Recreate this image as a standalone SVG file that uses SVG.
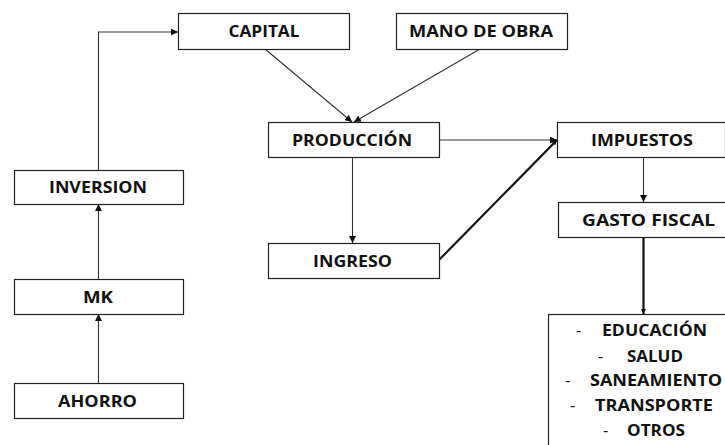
<svg xmlns="http://www.w3.org/2000/svg" width="725" height="445" viewBox="0 0 725 445">
<style>
.box{fill:#fff;stroke:#222;stroke-width:1.2}
.t{font-family:"Open Sans","Liberation Sans",sans-serif;font-weight:bold;font-size:16.5px;fill:#111;text-anchor:middle}
.l{font-family:"Open Sans","Liberation Sans",sans-serif;font-weight:bold;font-size:16.5px;fill:#111}
.d{font-weight:normal}
.c{fill:none;stroke:#333;stroke-width:1.1}
.ck{fill:none;stroke:#111;stroke-width:2.2}
</style>
<defs>
<marker id="a" viewBox="0 0 10 10" refX="10" refY="5" markerWidth="7" markerHeight="7" markerUnits="userSpaceOnUse" orient="auto"><path d="M0,0L10,5L0,10z" fill="#111"/></marker>
<marker id="b" viewBox="0 0 10 10" refX="10" refY="5" markerWidth="5" markerHeight="5" markerUnits="userSpaceOnUse" orient="auto"><path d="M0,0L10,5L0,10z" fill="#111"/></marker>
</defs>
<rect width="725" height="445" fill="#fff"/>
<g id="connectors">
<path class="c" d="M98.5,170V32H178" marker-end="url(#a)"/>
<path class="c" d="M265,49L352,122" marker-end="url(#a)"/>
<path class="c" d="M480,49L354,122" marker-end="url(#a)"/>
<path class="c" d="M352.5,157V243" marker-end="url(#a)"/>
<path class="c" d="M439,140H557" marker-end="url(#a)"/>
<path class="ck" d="M439,260L557,140" marker-end="url(#b)"/>
<path class="c" d="M643.5,157V202" marker-end="url(#a)"/>
<path class="ck" d="M643.5,237V314" marker-end="url(#b)"/>
<path class="c" d="M98.5,279V204" marker-end="url(#a)"/>
<path class="c" d="M98.5,383V314" marker-end="url(#a)"/>
</g>
<g id="capital"><rect class="box" x="178.5" y="13.5" width="171" height="36"/><text class="t" x="264" y="37" textLength="71" lengthAdjust="spacingAndGlyphs">CAPITAL</text></g>
<g id="mano-de-obra"><rect class="box" x="396.5" y="13.5" width="171" height="36"/><text class="t" x="481" y="37" textLength="144" lengthAdjust="spacingAndGlyphs">MANO DE OBRA</text></g>
<g id="produccion"><rect class="box" x="268.5" y="122.5" width="171" height="35"/><text class="t" x="352" y="146" textLength="120" lengthAdjust="spacingAndGlyphs">PRODUCCIÓN</text></g>
<g id="impuestos"><rect class="box" x="557.5" y="122.5" width="168" height="35"/><text class="t" x="642" y="146" textLength="102" lengthAdjust="spacingAndGlyphs">IMPUESTOS</text></g>
<g id="ingreso"><rect class="box" x="268.5" y="243.5" width="171" height="35"/><text class="t" x="352.5" y="267" textLength="79" lengthAdjust="spacingAndGlyphs">INGRESO</text></g>
<g id="gasto-fiscal"><rect class="box" x="558.5" y="202.5" width="168" height="35"/><text class="t" x="648.5" y="226" textLength="133" lengthAdjust="spacingAndGlyphs">GASTO FISCAL</text></g>
<g id="inversion"><rect class="box" x="14.5" y="170.5" width="169" height="34"/><text class="t" x="98" y="193" textLength="98" lengthAdjust="spacingAndGlyphs">INVERSION</text></g>
<g id="mk"><rect class="box" x="14.5" y="279.5" width="169" height="35"/><text class="t" x="98" y="303" textLength="30" lengthAdjust="spacingAndGlyphs">MK</text></g>
<g id="ahorro"><rect class="box" x="14.5" y="383.5" width="169" height="35"/><text class="t" x="97.5" y="407" textLength="79" lengthAdjust="spacingAndGlyphs">AHORRO</text></g>
<g id="gasto-lista"><rect class="box" x="548.5" y="314.5" width="180" height="140"/>
<text class="l" y="336"><tspan class="d" x="576">-</tspan><tspan x="602" textLength="105" lengthAdjust="spacingAndGlyphs">EDUCACIÓN</tspan></text>
<text class="l" y="362"><tspan class="d" x="598">-</tspan><tspan x="627" textLength="56" lengthAdjust="spacingAndGlyphs">SALUD</tspan></text>
<text class="l" y="386"><tspan class="d" x="565">-</tspan><tspan x="590" textLength="132" lengthAdjust="spacingAndGlyphs">SANEAMIENTO</tspan></text>
<text class="l" y="411"><tspan class="d" x="570">-</tspan><tspan x="595" textLength="118" lengthAdjust="spacingAndGlyphs">TRANSPORTE</tspan></text>
<text class="l" y="436"><tspan class="d" x="603">-</tspan><tspan x="627" textLength="58" lengthAdjust="spacingAndGlyphs">OTROS</tspan></text>
</g>
</svg>
